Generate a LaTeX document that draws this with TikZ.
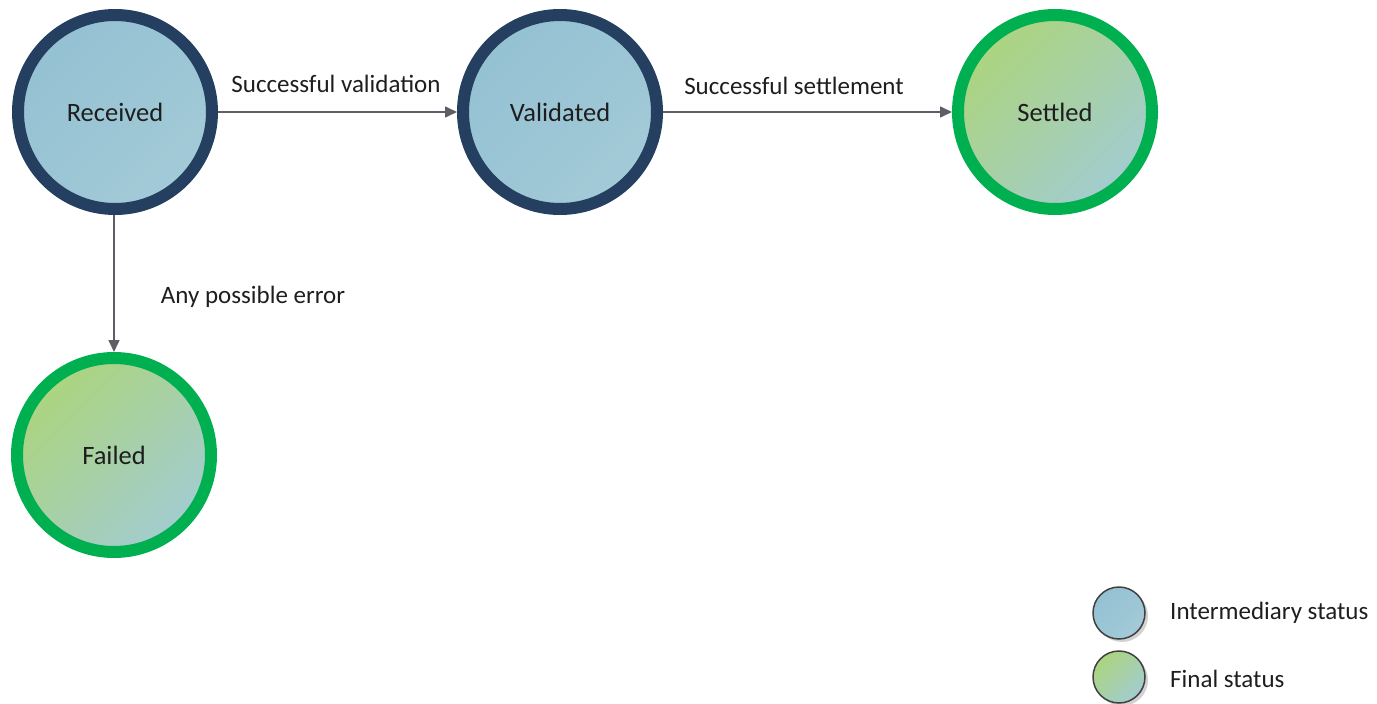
\documentclass[tikz,border=0pt]{standalone}
\usepackage{fontspec}
\setmainfont{Carlito}
\usetikzlibrary{arrows.meta,shadows}
\definecolor{navy}{HTML}{243F60}
\definecolor{fgreen}{HTML}{00B050}
\definecolor{bluea}{HTML}{94C1D3}
\definecolor{blueb}{HTML}{A3CAD7}
\definecolor{greena}{HTML}{ACD47E}
\definecolor{greenb}{HTML}{A2CCD0}
\definecolor{arrowgray}{HTML}{5E5E68}
\definecolor{txt}{HTML}{1E1E1E}
\tikzset{
  inter/.style={circle, inner sep=0pt, minimum size=194pt, line width=12pt, draw=navy,
    shading=axis, top color=bluea, bottom color=blueb, shading angle=45,
    font=\fontsize{26.5}{30}\selectfont, text=txt},
  final/.style={circle, inner sep=0pt, minimum size=194pt, line width=12pt, draw=fgreen,
    shading=axis, top color=greena, middle color=greena!92!greenb, bottom color=greenb, shading angle=45,
    font=\fontsize{26.5}{30}\selectfont, text=txt},
  conn/.style={draw=arrowgray, line width=1.6pt, -{Triangle[length=12pt,width=11pt]}},
  lbl/.style={font=\fontsize{25}{29}\selectfont, text=txt, inner sep=0pt},
  legint/.style={circle, inner sep=0pt, minimum size=52pt, line width=1.5pt, draw=black!75,
    shading=axis, top color=bluea, bottom color=blueb, shading angle=45,
    drop shadow={shadow xshift=3pt, shadow yshift=-3pt, fill=black!35}},
  legfin/.style={circle, inner sep=0pt, minimum size=52pt, line width=1.5pt, draw=black!75,
    shading=axis, top color=greena, middle color=greena!90!greenb, bottom color=greenb, shading angle=45,
    drop shadow={shadow xshift=3pt, shadow yshift=-3pt, fill=black!35}},
  legtxt/.style={font=\fontsize{25}{29}\selectfont, text=txt, inner sep=0pt, anchor=west},
}
\begin{document}
\begin{tikzpicture}[x=1pt,y=-1pt]
\useasboundingbox (0,0) rectangle (1377,704);
\node[inter] (rec) at (115,112) {Received};
\node[inter] (val) at (560,112) {Validated};
\node[final] (set) at (1055,112) {Settled};
\node[final] (fail) at (114,455) {Failed};
\draw[conn] (rec) -- (val);
\draw[conn] (val) -- (set);
\draw[conn] (rec.south) ++(-1,0) coordinate (rs) (rs) -- (rs |- fail.north);
\node[lbl] (l1) at (336,84) {Successful validation};
\node[lbl] (l2) at (794,86) {Successful settlement};
\node[lbl] (l3) at (253,297) {Any possible error};
\node[legint] (li) at (1119,613) {};
\node[legfin] (lf) at (1119,677) {};
\node[legtxt] (lit) at (1170,613) {Intermediary status};
\node[legtxt] (lft) at (1170,679) {Final status};
\end{tikzpicture}
\end{document}
